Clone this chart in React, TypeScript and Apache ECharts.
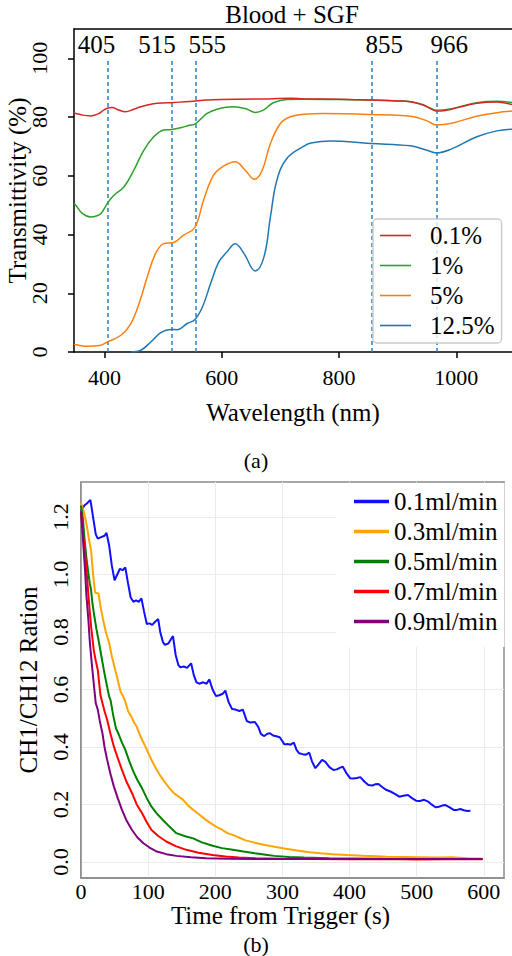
import React, { useEffect, useRef } from 'react';
import * as echarts from 'echarts';

const FONT = 'Liberation Serif';

// ---------- Chart (a): Blood + SGF transmittivity ----------
const namesA = ['0.1%', '1%', '5%', '12.5%'];
const colorsA = ['#d62728', '#2ca02c', '#ff7f0e', '#1f77b4'];
const wavelengthTicks = [400, 600, 800, 1000];
const transTicks = [0, 20, 40, 60, 80, 100];
const markerWavelengths = [405, 515, 555, 855, 966];

const trans01: number[][] = [
  [348, 81.4], [351, 81.25], [362, 80.7], [376, 80.4], [390, 81.2], [398, 82.3], [405, 83], [413, 83.3],
  [422, 82.6], [436, 81.8], [450, 82.7], [462, 83.5], [475, 84.2], [490, 84.7], [518, 85], [545, 85.3],
  [575, 85.8], [600, 86], [632, 86.1], [680, 86.2], [717, 86.4], [740, 86.2], [800, 86.1], [854, 85.8],
  [900, 85.5], [922, 85.2], [944, 84.1], [955, 83], [966, 82.1], [978, 82.2], [990, 82.6], [1010, 83.6],
  [1035, 84.7], [1069, 85.1], [1085, 84.7], [1095, 84.3],
];
const trans1: number[][] = [
  [348, 50.5], [351, 50], [362, 47.2], [376, 46], [386, 46.3], [394, 47.2], [405, 50.6], [416, 53.4],
  [433, 56.2], [450, 61.9], [467, 68.7], [484, 73.3], [501, 75.6], [514, 75.8], [530, 76.4], [545, 77.2],
  [554, 77.6], [565, 79.5], [575, 81.3], [592, 82.7], [620, 83.5], [643, 82.7], [657, 81.6], [671, 82.4],
  [688, 84.9], [711, 86], [740, 86.1], [800, 86], [854, 85.8], [900, 85.5], [922, 85.2], [944, 84.1],
  [955, 83.1], [966, 82.3], [990, 82.8], [1035, 84.9], [1069, 85.4], [1095, 85],
];
const trans5: number[][] = [
  [348, 2.6], [351, 2.5], [371, 1.95], [391, 2.2], [405, 3.4], [428, 5.7], [445, 9.7], [459, 16.5],
  [473, 25.6], [487, 33.5], [501, 36.9], [518, 37.3], [535, 39.8], [554, 42.4], [569, 51.7], [586, 60.2],
  [603, 63.3], [623, 64.8], [640, 61.9], [656, 58.8], [669, 61.9], [683, 71], [700, 77.8], [717, 80.1],
  [740, 81], [774, 81.2], [854, 80.9], [922, 80.3], [950, 78.7], [966, 77.3], [990, 77.8], [1035, 80.3],
  [1080, 81.8], [1095, 82],
];
const trans125: number[][] = [
  [445, 0], [462, 0.6], [479, 3.4], [496, 6.6], [513, 7.7], [524, 7.6], [541, 9.7], [554, 11],
  [567, 15.3], [581, 23.3], [595, 30.7], [609, 34.1], [623, 36.9], [638, 33.5], [657, 27.6], [672, 32.4],
  [683, 46], [694, 58.5], [711, 65.9], [740, 70.1], [752, 71.2], [786, 71.9], [854, 71], [922, 70.2],
  [950, 68.7], [966, 67.8], [990, 69], [1035, 73.3], [1069, 75.3], [1095, 75.9],
];
const dataA = [trans01, trans1, trans5, trans125];

// ---------- Chart (b): CH1/CH12 ratio vs time ----------
const namesB = ['0.1ml/min', '0.3ml/min', '0.5ml/min', '0.7ml/min', '0.9ml/min'];
const colorsB = ['#1010ff', '#ffa500', '#008000', '#ff0000', '#800080'];
const timeTicks = [0, 100, 200, 300, 400, 500, 600];
const ratioTicks = [0, 0.2, 0.4, 0.6, 0.8, 1.0, 1.2];

const ratio01: number[][] = [
  [0, 1.22], [5, 1.24], [10, 1.25], [14, 1.26], [18, 1.2], [22, 1.14], [25, 1.125], [30, 1.13], [35, 1.135],
  [38, 1.145], [42, 1.1], [46, 1.03], [50, 0.98], [54, 1.0], [58, 1.02], [62, 1.015], [66, 1.025], [70, 0.97],
  [74, 0.92], [78, 0.905], [82, 0.91], [86, 0.905], [90, 0.917], [94, 0.87], [98, 0.828], [102, 0.83],
  [106, 0.825], [110, 0.835], [115, 0.845], [118, 0.8], [122, 0.765], [125, 0.755], [130, 0.76], [134, 0.775],
  [137, 0.786], [141, 0.72], [145, 0.685], [148, 0.677], [153, 0.68], [158, 0.675], [164, 0.691], [168, 0.65],
  [172, 0.625], [176, 0.62], [182, 0.625], [187, 0.62], [191, 0.635], [196, 0.6], [201, 0.577], [206, 0.58],
  [211, 0.585], [215, 0.596], [220, 0.555], [225, 0.532], [230, 0.53], [236, 0.525], [241, 0.53], [247, 0.49],
  [252, 0.485], [259, 0.487], [264, 0.47], [268, 0.445], [273, 0.438], [277, 0.445], [281, 0.448], [286, 0.44],
  [291, 0.437], [296, 0.434], [300, 0.42], [303, 0.409], [308, 0.41], [312, 0.408], [317, 0.415], [321, 0.39],
  [325, 0.378], [330, 0.375], [335, 0.373], [340, 0.38], [344, 0.35], [349, 0.326], [354, 0.34], [359, 0.355],
  [364, 0.348], [370, 0.33], [376, 0.32], [381, 0.322], [386, 0.328], [390, 0.331], [395, 0.31], [401, 0.291],
  [406, 0.29], [411, 0.292], [416, 0.295], [422, 0.28], [428, 0.268], [434, 0.266], [438, 0.27], [443, 0.271],
  [449, 0.26], [455, 0.25], [461, 0.245], [468, 0.236], [474, 0.227], [480, 0.23], [487, 0.233], [493, 0.222],
  [499, 0.213], [505, 0.212], [511, 0.216], [517, 0.21], [522, 0.2], [528, 0.19], [533, 0.192], [538, 0.196],
  [543, 0.198], [549, 0.19], [555, 0.181], [560, 0.181], [565, 0.184], [570, 0.18], [576, 0.177], [580, 0.178],
];
const ratio03: number[][] = [
  [0, 1.25], [4, 1.22], [9, 1.166], [12, 1.12], [15, 1.085], [18, 1.0], [21, 0.937], [24, 0.935], [26, 0.934],
  [29, 0.89], [33, 0.842], [37, 0.8], [42, 0.761], [46, 0.715], [51, 0.668], [55, 0.63], [59, 0.592],
  [63, 0.575], [66, 0.557], [70, 0.525], [75, 0.505], [79, 0.485], [83, 0.47], [88, 0.44], [92, 0.42],
  [96, 0.401], [101, 0.375], [106, 0.35], [113, 0.32], [118, 0.3], [124, 0.28], [132, 0.256], [138, 0.24],
  [145, 0.228], [152, 0.216], [160, 0.195], [168, 0.18], [177, 0.163], [185, 0.148], [193, 0.135], [201, 0.123],
  [210, 0.112], [218, 0.1], [226, 0.094], [235, 0.085], [245, 0.075], [259, 0.067], [272, 0.06], [288, 0.053],
  [305, 0.046], [322, 0.04], [340, 0.034], [357, 0.03], [375, 0.027], [396, 0.024], [420, 0.021], [440, 0.02],
  [455, 0.018], [480, 0.017], [504, 0.016], [530, 0.015], [553, 0.016], [575, 0.013], [592, 0.012], [598, 0.011],
];
const ratio05: number[][] = [
  [0, 1.24], [3, 1.19], [5, 1.13], [8, 1.06], [11, 1.004], [13, 0.97], [15, 0.946], [17, 0.9], [20, 0.853],
  [23, 0.81], [27, 0.761], [30, 0.72], [34, 0.668], [38, 0.62], [42, 0.575], [44, 0.563], [48, 0.51],
  [52, 0.465], [56, 0.445], [61, 0.415], [66, 0.39], [72, 0.35], [78, 0.314], [84, 0.285], [91, 0.256],
  [98, 0.222], [105, 0.192], [113, 0.168], [122, 0.146], [132, 0.122], [142, 0.1], [154, 0.09], [167, 0.082],
  [180, 0.068], [196, 0.056], [210, 0.048], [226, 0.042], [242, 0.036], [259, 0.03], [275, 0.025], [288, 0.021],
  [310, 0.017], [332, 0.015], [370, 0.013], [406, 0.012], [450, 0.011], [500, 0.01], [550, 0.01], [598, 0.01],
];
const ratio07: number[][] = [
  [0, 1.22], [3, 1.14], [7, 1.05], [10, 0.96], [12, 0.9], [15, 0.82], [19, 0.737], [22, 0.7], [25, 0.668],
  [29, 0.58], [32, 0.552], [35, 0.525], [39, 0.494], [44, 0.445], [49, 0.401], [55, 0.36], [61, 0.32],
  [68, 0.278], [76, 0.239], [83, 0.2], [91, 0.169], [98, 0.138], [105, 0.111], [115, 0.09], [127, 0.071],
  [141, 0.055], [157, 0.042], [175, 0.032], [196, 0.024], [215, 0.019], [235, 0.015], [260, 0.013], [300, 0.011],
  [350, 0.01], [400, 0.009], [450, 0.01], [500, 0.008], [550, 0.009], [598, 0.009],
];
const ratio09: number[][] = [
  [0, 1.22], [3, 1.12], [6, 1.016], [8, 0.93], [11, 0.842], [13, 0.77], [16, 0.691], [19, 0.62], [22, 0.552],
  [25, 0.53], [28, 0.49], [32, 0.447], [35, 0.4], [39, 0.355], [44, 0.305], [49, 0.262], [55, 0.22],
  [61, 0.181], [68, 0.143], [76, 0.111], [84, 0.085], [93, 0.065], [102, 0.05], [113, 0.036], [127, 0.027],
  [142, 0.021], [164, 0.016], [186, 0.013], [220, 0.011], [260, 0.01], [320, 0.01], [400, 0.01], [500, 0.01],
  [598, 0.01],
];
const dataB = [ratio01, ratio03, ratio05, ratio07, ratio09];

export default function App() {
  const ref = useRef<HTMLDivElement>(null);

  useEffect(() => {
    document.body.style.margin = '0';
    if (!ref.current) return;
    const chart = echarts.init(ref.current, undefined, { renderer: 'svg' });

    const black = '#000';
    const gray = '#8a8a8a';
    const markerLabelDx: Record<number, number> = { 405: -11, 515: -15, 555: 12, 855: 13, 966: 13 };

    const lineA = dataA.map((d, i) => ({
      name: namesA[i],
      type: 'line',
      xAxisIndex: 0,
      yAxisIndex: 0,
      data: d,
      smooth: 0.4,
      symbol: 'none',
      z: 10 - i,
      lineStyle: { color: colorsA[i], width: 1.5 },
      itemStyle: { color: colorsA[i] },
      ...(i === 3
        ? {
            markLine: {
              silent: true,
              symbol: ['none', 'none'],
              animation: false,
              z: 1,
              lineStyle: { color: '#2a7fc4', type: [4, 3], width: 1.5 },
              label: {
                show: true,
                position: 'end',
                formatter: '{b}',
                fontSize: 25,
                color: black,
                fontFamily: FONT,
                distance: 1,
              },
              data: markerWavelengths.map((w) => [
                { coord: [w, 0], name: String(w), label: { offset: [markerLabelDx[w] || 0, 0] } },
                { coord: [w, 100], name: String(w) },
              ]),
            },
          }
        : {}),
    }));

    const lineB = dataB.map((d, i) => ({
      name: namesB[i],
      type: 'line',
      xAxisIndex: 2,
      yAxisIndex: 1,
      data: d,
      symbol: 'none',
      z: 5,
      lineStyle: { color: colorsB[i], width: 2 },
      itemStyle: { color: colorsB[i] },
    }));

    const option = {
      animation: false,
      backgroundColor: '#fff',
      textStyle: { fontFamily: FONT },
      title: [
        {
          text: 'Blood + SGF', left: 292, top: 2, textAlign: 'center', padding: 0,
          textStyle: { fontSize: 25, fontWeight: 'normal', color: black, fontFamily: FONT },
        },
        {
          text: '(a)', left: 256, top: 449, textAlign: 'center', padding: 0,
          textStyle: { fontSize: 22, fontWeight: 'normal', color: black, fontFamily: FONT },
        },
        {
          text: '(b)', left: 256, top: 933, textAlign: 'center', padding: 0,
          textStyle: { fontSize: 22, fontWeight: 'normal', color: black, fontFamily: FONT },
        },
      ],
      legend: [
        {
          data: namesA,
          orient: 'vertical',
          left: 373,
          top: 219,
          icon: 'rect',
          itemWidth: 31,
          itemHeight: 1.6,
          itemGap: 5,
          padding: [4, 7, 5, 7],
          backgroundColor: 'rgba(255,255,255,0.8)',
          borderColor: '#cccccc',
          borderWidth: 1.5,
          borderRadius: 4,
          textStyle: { fontSize: 25, lineHeight: 24, color: black, fontFamily: FONT, padding: [0, 0, 0, 14] },
        },
        {
          data: namesB,
          orient: 'vertical',
          left: 336,
          top: 483,
          icon: 'rect',
          itemWidth: 35,
          itemHeight: 3.5,
          itemGap: 5,
          padding: [6, 7, 13, 18],
          backgroundColor: '#ffffff',
          borderWidth: 0,
          textStyle: { fontSize: 25, lineHeight: 24, color: black, fontFamily: FONT },
        },
      ],
      grid: [
        { left: 74, top: 29, width: 438, height: 323, outerBoundsMode: 'none', containLabel: false },
        {
          left: 81, top: 482, width: 423, height: 396, show: true, borderColor: gray, borderWidth: 1.5,
          outerBoundsMode: 'none', containLabel: false,
        },
      ],
      xAxis: [
        {
          gridIndex: 0, type: 'value', min: 348, max: 1095,
          axisLine: { show: true, lineStyle: { color: black, width: 1.5 } },
          axisTick: { show: true, customValues: wavelengthTicks, length: 6, lineStyle: { color: black, width: 1.5 } },
          axisLabel: {
            customValues: wavelengthTicks, fontSize: 22, color: black, margin: 14, fontFamily: FONT,
            formatter: (v: number) => String(v),
          },
          splitLine: { show: false },
          name: 'Wavelength (nm)', nameLocation: 'middle', nameGap: 48, nameMoveOverlap: false,
          nameTextStyle: { fontSize: 25, color: black, fontFamily: FONT },
        },
        {
          gridIndex: 0, type: 'value', position: 'top', min: 348, max: 1095,
          axisLine: { show: true, onZero: false, lineStyle: { color: black, width: 1.5 } },
          axisTick: { show: false }, axisLabel: { show: false }, splitLine: { show: false },
        },
        {
          gridIndex: 1, type: 'value', min: 0, max: 630,
          axisLine: { show: true, onZero: false, lineStyle: { color: gray, width: 1.5 } },
          axisTick: { show: false, customValues: timeTicks },
          axisLabel: {
            customValues: timeTicks, fontSize: 22, color: black, margin: 2, fontFamily: FONT,
            formatter: (v: number) => String(v),
          },
          splitLine: { show: true, lineStyle: { color: '#ebebeb', width: 1 } },
          name: 'Time from Trigger (s)', nameLocation: 'middle', nameGap: 18,
          nameTextStyle: { fontSize: 25, color: black, fontFamily: FONT, padding: [0, 24, 0, 0] },
        },
      ],
      yAxis: [
        {
          gridIndex: 0, type: 'value', min: 0, max: 110,
          axisLine: { show: true, lineStyle: { color: black, width: 1.5 } },
          axisTick: { show: true, customValues: transTicks, length: 6, lineStyle: { color: black, width: 1.5 } },
          axisLabel: { customValues: transTicks, rotate: 90, fontSize: 22, color: black, margin: 24, fontFamily: FONT },
          splitLine: { show: false },
          name: 'Transmittivity (%)', nameLocation: 'middle', nameGap: 44, nameRotate: 90, nameMoveOverlap: false,
          nameTextStyle: { fontSize: 25, color: black, fontFamily: FONT },
        },
        {
          gridIndex: 1, type: 'value', min: -0.056, max: 1.322,
          axisLine: { show: true, onZero: false, lineStyle: { color: gray, width: 1.5 } },
          axisTick: { show: false, customValues: ratioTicks },
          axisLabel: {
            customValues: ratioTicks, rotate: 90, fontSize: 22, color: black, margin: 10, fontFamily: FONT,
            formatter: (v: number) => v.toFixed(1),
          },
          splitLine: { show: true, lineStyle: { color: '#ebebeb', width: 1 } },
          name: 'CH1/CH12 Ration', nameLocation: 'middle', nameGap: 31, nameRotate: 90,
          nameTextStyle: { fontSize: 25, color: black, fontFamily: FONT },
        },
      ],
      series: [...lineA, ...lineB],
    };

    chart.setOption(option as any);

    // make sure the serif face is resolved, then redraw texts with it
    let alive = true;
    const fonts = (document as any).fonts;
    if (fonts && fonts.load) {
      fonts.load('25px "Liberation Serif"').then(() => {
        if (alive) chart.setOption(option as any, true);
      }).catch(() => {});
    }

    return () => {
      alive = false;
      chart.dispose();
    };
  }, []);

  return <div ref={ref} style={{ width: 512, height: 956 }} />;
}
